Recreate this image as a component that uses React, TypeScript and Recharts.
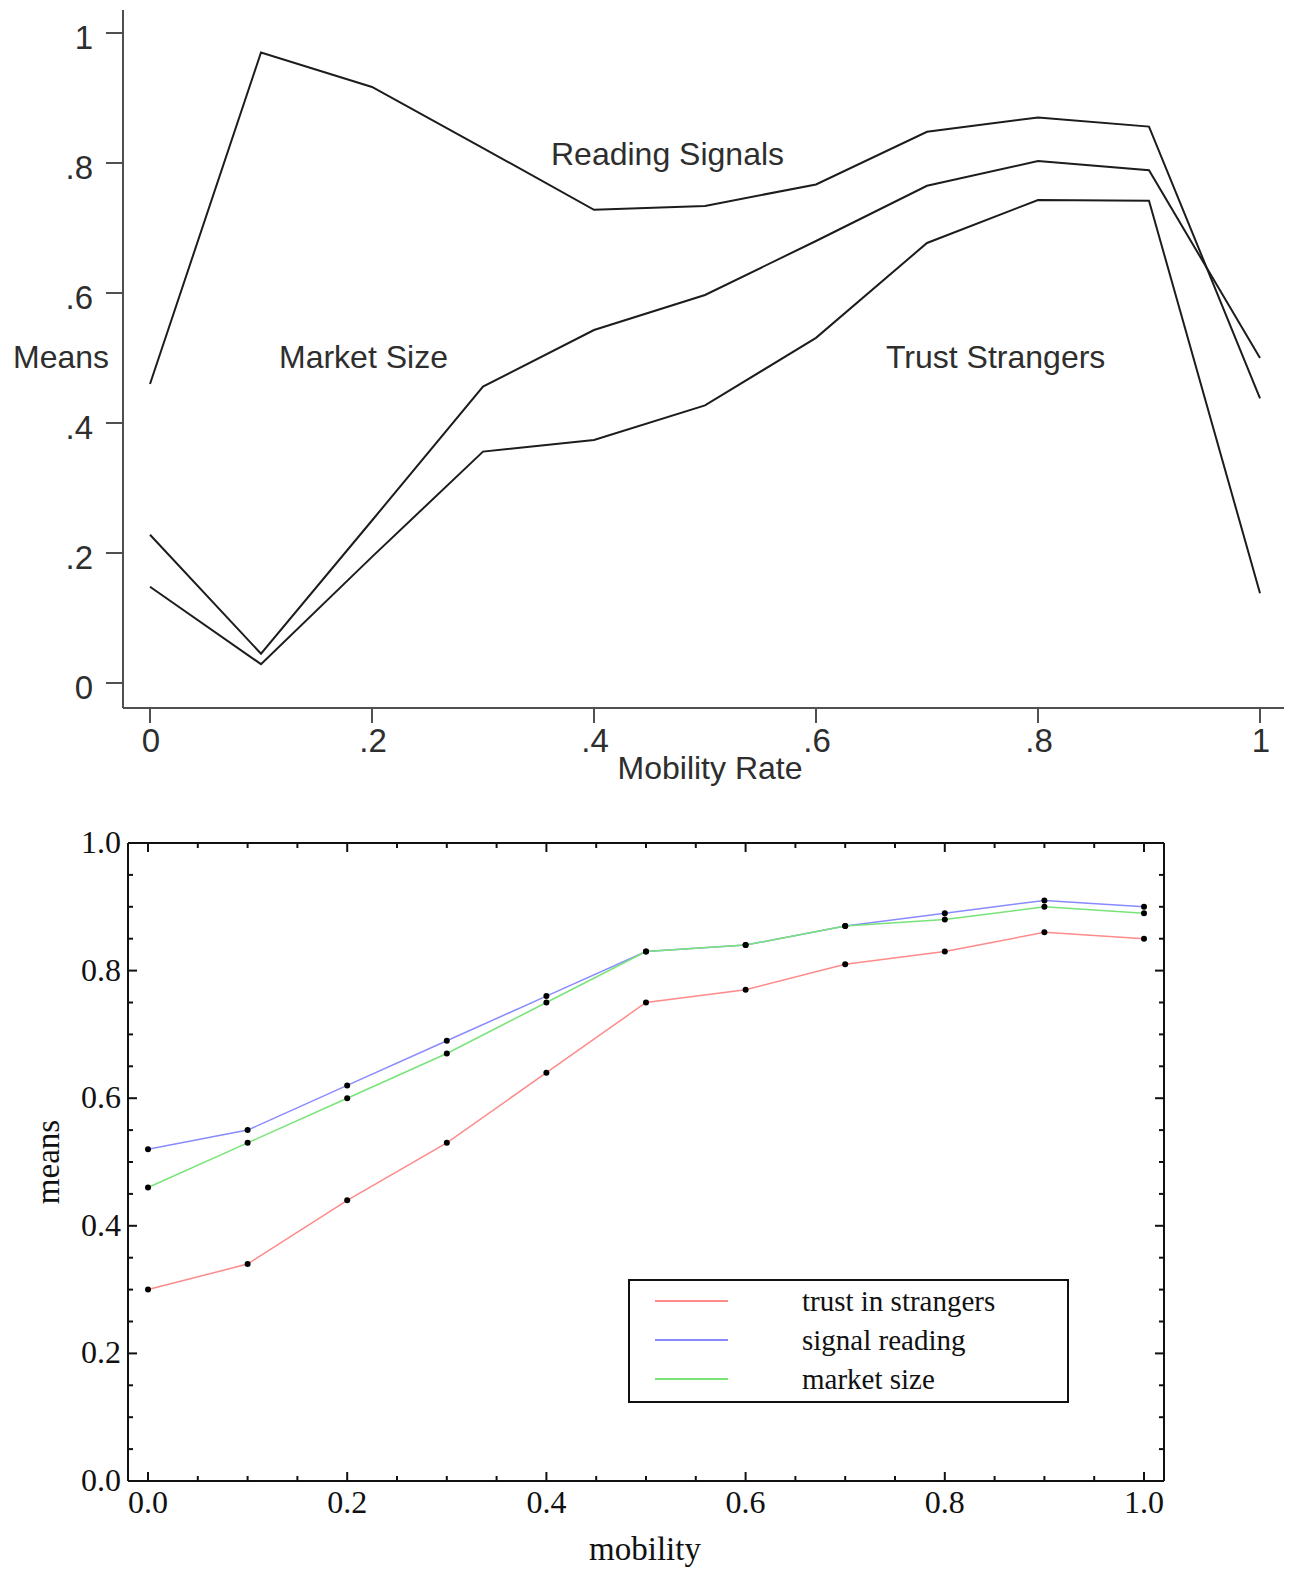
import React from "react";
import { LineChart, Line, XAxis, YAxis, Legend } from "recharts";

// mobility rate steps shared by both panels
const mobility = [0, 0.1, 0.2, 0.3, 0.4, 0.5, 0.6, 0.7, 0.8, 0.9, 1];

// upper panel: means by mobility rate
const readingSignals = [0.46, 0.97, 0.917, 0.823, 0.728, 0.734, 0.767, 0.848, 0.87, 0.856, 0.438];
const marketSize = [0.228, 0.045, 0.25, 0.456, 0.543, 0.597, 0.68, 0.765, 0.803, 0.789, 0.5];
const trustStrangers = [0.148, 0.029, 0.194, 0.356, 0.374, 0.427, 0.531, 0.677, 0.743, 0.742, 0.138];
const upperTicks = [0, 0.2, 0.4, 0.6, 0.8, 1];

// lower panel: simulated means by mobility
const trustInStrangers = [0.3, 0.34, 0.44, 0.53, 0.64, 0.75, 0.77, 0.81, 0.83, 0.86, 0.85];
const signalReading = [0.52, 0.55, 0.62, 0.69, 0.76, 0.83, 0.84, 0.87, 0.89, 0.91, 0.9];
const marketSizeSim = [0.46, 0.53, 0.6, 0.67, 0.75, 0.83, 0.84, 0.87, 0.88, 0.9, 0.89];
const lowerTicks = [
  0, 0.05, 0.1, 0.15, 0.2, 0.25, 0.3, 0.35, 0.4, 0.45, 0.5,
  0.55, 0.6, 0.65, 0.7, 0.75, 0.8, 0.85, 0.9, 0.95, 1,
];
const legendOrder = ["trust in strangers", "signal reading", "market size"];

const upperData = mobility.map((m, i) => ({
  m,
  reading: readingSignals[i],
  market: marketSize[i],
  trust: trustStrangers[i],
}));

const lowerData = mobility.map((m, i) => ({
  m,
  trust: trustInStrangers[i],
  signal: signalReading[i],
  market: marketSizeSim[i],
}));

const SANS = "'Liberation Sans', Arial, Helvetica, sans-serif";
const SERIF = "'Liberation Serif', 'Times New Roman', serif";
const INK = "#2e2e2e";

const fmtShort = (v: number) => (v === 0 ? "0" : v === 1 ? "1" : String(v).replace(/^0/, ""));
const isMajor = (v: number) => Math.abs(v * 5 - Math.round(v * 5)) < 1e-6;

function UpperXTick({ x, y, payload }: any) {
  return (
    <g>
      <line x1={x} x2={x} y1={y} y2={y + 15} stroke="#505050" strokeWidth={2} />
      <text x={x + 1} y={y + 44} textAnchor="middle" fontFamily={SANS} fontSize={33} fill={INK}>
        {fmtShort(payload.value)}
      </text>
    </g>
  );
}

function UpperYTick({ x, y, payload }: any) {
  return (
    <g>
      <line x1={x - 17} x2={x} y1={y} y2={y} stroke="#505050" strokeWidth={2} />
      <text x={x - 30} y={y + 16} textAnchor="end" fontFamily={SANS} fontSize={33} fill={INK}>
        {fmtShort(payload.value)}
      </text>
    </g>
  );
}

function LowerBottomTick({ x, y, payload }: any) {
  const major = isMajor(payload.value);
  return (
    <g>
      <line x1={x} x2={x} y1={y} y2={y - (major ? 9 : 5)} stroke="#111" strokeWidth={2} />
      {major && (
        <text x={x} y={y + 32} textAnchor="middle" fontFamily={SERIF} fontSize={32} fill="#111">
          {payload.value.toFixed(1)}
        </text>
      )}
    </g>
  );
}

function LowerTopTick({ x, y, payload }: any) {
  const major = isMajor(payload.value);
  return <line x1={x} x2={x} y1={y} y2={y + (major ? 9 : 5)} stroke="#111" strokeWidth={2} />;
}

function LowerLeftTick({ x, y, payload }: any) {
  const major = isMajor(payload.value);
  return (
    <g>
      <line x1={x} x2={x + (major ? 9 : 5)} y1={y} y2={y} stroke="#111" strokeWidth={2} />
      {major && (
        <text x={x - 7} y={y + 10} textAnchor="end" fontFamily={SERIF} fontSize={32} fill="#111">
          {payload.value.toFixed(1)}
        </text>
      )}
    </g>
  );
}

function LowerRightTick({ x, y, payload }: any) {
  const major = isMajor(payload.value);
  return <line x1={x} x2={x - (major ? 9 : 5)} y1={y} y2={y} stroke="#111" strokeWidth={2} />;
}

function LegendBox({ payload }: any) {
  const rows = [...(payload || [])].sort(
    (a: any, b: any) => legendOrder.indexOf(a.value) - legendOrder.indexOf(b.value)
  );
  return (
    <svg width={441} height={124} style={{ display: "block" }}>
      <rect x={1} y={1} width={439} height={122} fill="#fff" stroke="#111" strokeWidth={2} />
      {rows.map((p: any, i: number) => {
        const cy = 22 + i * 39;
        return (
          <g key={p.value}>
            <line x1={27} x2={100} y1={cy} y2={cy} stroke={p.color} strokeWidth={2} />
            <text x={174} y={cy + 10} fontFamily={SERIF} fontSize={29} fill="#111">
              {p.value}
            </text>
          </g>
        );
      })}
    </svg>
  );
}

function UpperChart() {
  return (
    <LineChart
      width={1298}
      height={800}
      data={upperData}
      margin={{ top: 10, right: 14, left: 0, bottom: 0 }}
    >
      <XAxis
        dataKey="m"
        type="number"
        domain={[0, 1]}
        ticks={upperTicks}
        interval={0}
        padding={{ left: 27, right: 24 }}
        height={92}
        tickSize={0}
        tickMargin={0}
        tickLine={false}
        axisLine={{ stroke: "#505050", strokeWidth: 2 }}
        tick={(p: any) => <UpperXTick {...p} />}
      />
      <YAxis
        type="number"
        domain={[0, 1]}
        ticks={upperTicks}
        interval={0}
        padding={{ top: 23, bottom: 25 }}
        width={123}
        tickSize={0}
        tickMargin={0}
        tickLine={false}
        axisLine={{ stroke: "#505050", strokeWidth: 2 }}
        tick={(p: any) => <UpperYTick {...p} />}
      />
      <Line type="linear" dataKey="reading" stroke="#1c1c1c" strokeWidth={2} dot={false} isAnimationActive={false} />
      <Line type="linear" dataKey="market" stroke="#1c1c1c" strokeWidth={2} dot={false} isAnimationActive={false} />
      <Line type="linear" dataKey="trust" stroke="#1c1c1c" strokeWidth={2} dot={false} isAnimationActive={false} />
      <text x={13} y={368} fontFamily={SANS} fontSize={32} fill={INK}>Means</text>
      <text x={279} y={368} fontFamily={SANS} fontSize={32} fill={INK}>Market Size</text>
      <text x={551} y={165} fontFamily={SANS} fontSize={32} fill={INK}>Reading Signals</text>
      <text x={886} y={368} fontFamily={SANS} fontSize={32} fill={INK}>Trust Strangers</text>
      <text x={710} y={779} textAnchor="middle" fontFamily={SANS} fontSize={32} fill={INK}>Mobility Rate</text>
    </LineChart>
  );
}

function LowerChart() {
  return (
    <LineChart
      width={1298}
      height={770}
      data={lowerData}
      margin={{ top: 42, right: 133, left: 0, bottom: 0 }}
    >
      <XAxis
        dataKey="m"
        type="number"
        domain={[0, 1]}
        ticks={lowerTicks}
        interval={0}
        padding={{ left: 20, right: 20 }}
        height={89}
        tickSize={0}
        tickMargin={0}
        tickLine={false}
        axisLine={{ stroke: "#111", strokeWidth: 2 }}
        tick={(p: any) => <LowerBottomTick {...p} />}
      />
      <XAxis
        xAxisId="top"
        orientation="top"
        dataKey="m"
        type="number"
        domain={[0, 1]}
        ticks={lowerTicks}
        interval={0}
        padding={{ left: 20, right: 20 }}
        height={1}
        tickSize={0}
        tickMargin={0}
        tickLine={false}
        axisLine={{ stroke: "#111", strokeWidth: 2 }}
        tick={(p: any) => <LowerTopTick {...p} />}
      />
      <YAxis
        type="number"
        domain={[0, 1]}
        ticks={lowerTicks}
        interval={0}
        width={128}
        tickSize={0}
        tickMargin={0}
        tickLine={false}
        axisLine={{ stroke: "#111", strokeWidth: 2 }}
        tick={(p: any) => <LowerLeftTick {...p} />}
      />
      <YAxis
        yAxisId="right"
        orientation="right"
        type="number"
        domain={[0, 1]}
        ticks={lowerTicks}
        interval={0}
        width={1}
        tickSize={0}
        tickMargin={0}
        tickLine={false}
        axisLine={{ stroke: "#111", strokeWidth: 2 }}
        tick={(p: any) => <LowerRightTick {...p} />}
      />
      <Line
        type="linear"
        dataKey="trust"
        name="trust in strangers"
        stroke="#ff8a8a"
        strokeWidth={1.5}
        dot={{ r: 3, fill: "#000", stroke: "none" }}
        isAnimationActive={false}
      />
      <Line
        type="linear"
        dataKey="signal"
        name="signal reading"
        stroke="#8a8aff"
        strokeWidth={1.5}
        dot={{ r: 3, fill: "#000", stroke: "none" }}
        isAnimationActive={false}
      />
      {/* same domain and padding as the bottom/left pair, so the scales coincide */}
      <Line
        xAxisId="top"
        yAxisId="right"
        type="linear"
        dataKey="market"
        name="market size"
        stroke="#78e478"
        strokeWidth={1.5}
        dot={{ r: 3, fill: "#000", stroke: "none" }}
        isAnimationActive={false}
      />
      <Legend
        layout="vertical"
        align="center"
        verticalAlign="middle"
        wrapperStyle={{ left: 628, top: 479, width: 441, height: 124 }}
        content={(p: any) => <LegendBox {...p} />}
      />
      <text x={645} y={760} textAnchor="middle" fontFamily={SERIF} fontSize={33} fill="#111">mobility</text>
      <text
        x={0}
        y={0}
        transform="translate(59 362) rotate(-90)"
        textAnchor="middle"
        fontFamily={SERIF}
        fontSize={33}
        fill="#111"
      >
        means
      </text>
    </LineChart>
  );
}

export default function App() {
  return (
    <div style={{ position: "absolute", left: 0, top: 0, width: 1298, height: 1570, background: "#fff" }}>
      <div style={{ position: "absolute", left: 0, top: 0 }}>
        <UpperChart />
      </div>
      <div style={{ position: "absolute", left: 0, top: 800 }}>
        <LowerChart />
      </div>
    </div>
  );
}
